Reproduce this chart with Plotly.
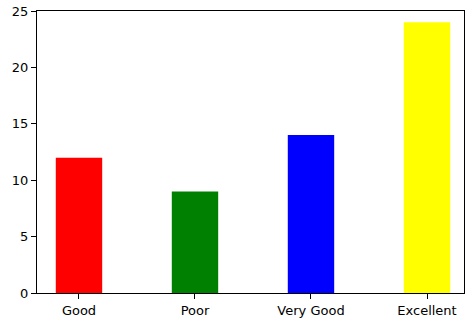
import plotly.graph_objects as go

categorias = ["Good", "Poor", "Very Good", "Excellent"]
valores = [12, 9, 14, 24]
cores = ["red", "green", "blue", "yellow"]
y_ticks = [0, 5, 10, 15, 20, 25]

fig = go.Figure()
fig.add_trace(
    go.Bar(
        x=categorias,
        y=valores,
        width=0.4,
        marker=dict(color=cores, line=dict(width=0)),
    )
)

fig.update_layout(
    width=465,
    height=323,
    margin=dict(l=37, r=1, t=11, b=30),
    plot_bgcolor="white",
    paper_bgcolor="white",
    showlegend=False,
    font=dict(family="DejaVu Sans", size=13, color="black"),
)

fig.update_xaxes(
    automargin=False,
    range=[-0.362, 3.319],
    showline=True, linecolor="black", linewidth=1, mirror=True,
    ticks="outside", ticklen=5, tickcolor="black", tickwidth=1,
    showgrid=False, zeroline=False,
)
fig.update_yaxes(
    automargin=False,
    range=[0, 25],
    tickvals=y_ticks,
    showline=True, linecolor="black", linewidth=1, mirror=True,
    ticks="outside", ticklen=5, tickcolor="black", tickwidth=1,
    showgrid=False, zeroline=False,
)

# tira a margem padrão do body para a figura ficar no canto
fig.write_html(
    "out.html",
    config={"displayModeBar": False},
    post_script="document.body.style.margin='0';",
)
